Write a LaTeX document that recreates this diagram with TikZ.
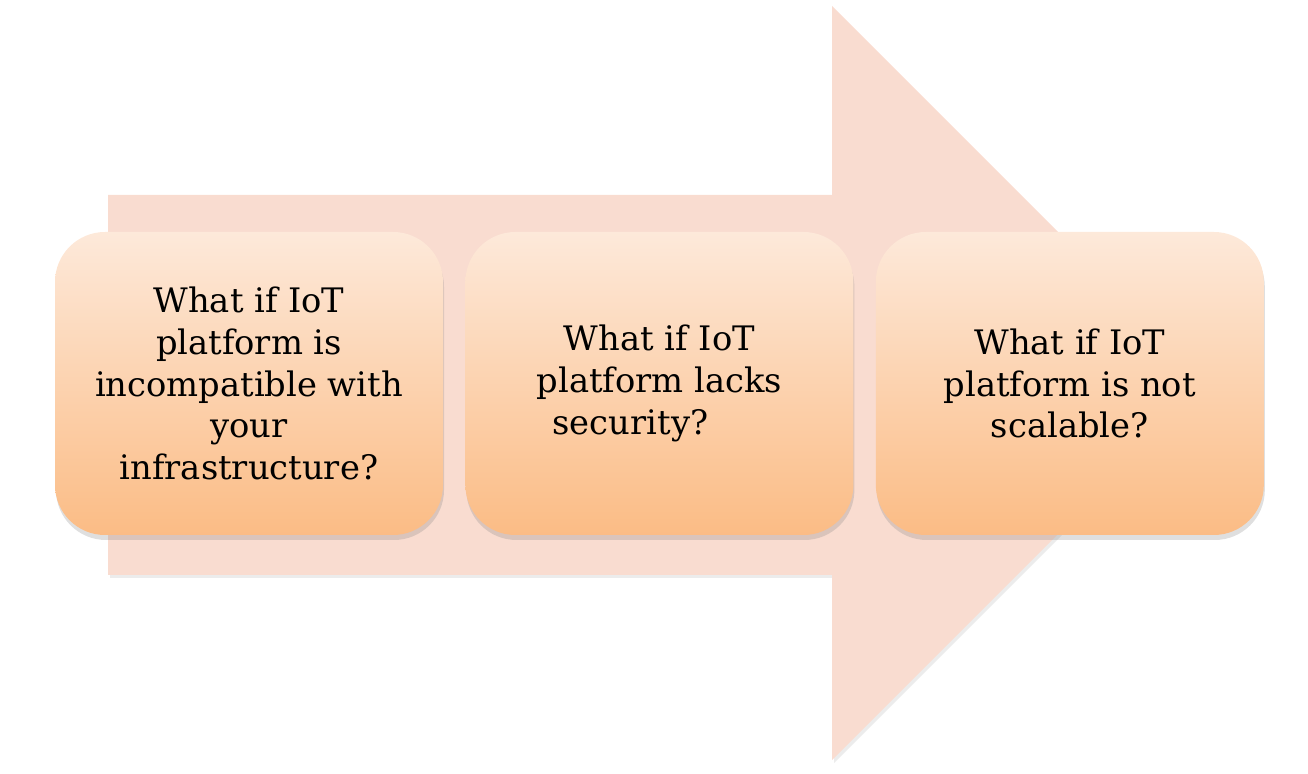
\documentclass[tikz,border=0pt]{standalone}
\usepackage{fontspec}
\setmainfont{DejaVu Serif}
\usetikzlibrary{positioning,shadows}
\definecolor{ArrowPink}{HTML}{F9DCD0}
\definecolor{BoxTop}{HTML}{FDE9DA}
\definecolor{BoxBottom}{HTML}{FBBC85}
\definecolor{BodyText}{HTML}{000000}

\begin{document}
\begin{tikzpicture}[x=1cm,y=1cm,
  card/.style={rounded corners=0.5cm,minimum width=3.88cm,minimum height=3.03cm,
    top color=BoxTop,bottom color=BoxBottom,draw=none,align=center,text=BodyText,
    font=\fontsize{9.6}{11.9}\selectfont,
    drop shadow={shadow xshift=0.01cm,shadow yshift=-0.05cm,opacity=0.25}}]
  \useasboundingbox (0,0) rectangle (13.08,7.74);

  % the big arrow behind the cards
  \path[fill=ArrowPink,drop shadow={shadow xshift=0.02cm,shadow yshift=-0.03cm,opacity=0.15}]
    (1.08,1.99) -- (8.32,1.99) -- (8.32,0.14) -- (12.09,3.91)
    -- (8.32,7.68) -- (8.32,5.79) -- (1.08,5.79) -- cycle;

  \node[card] (q1) at (2.49,3.905)
    {What if IoT\\platform is\\incompatible with\\your\\infrastructure?};
  \node[card,right=0.21cm of q1] (q2)
    {What if IoT\\platform lacks\\security?\hspace*{0.58cm}};
  \node[card,right=0.21cm of q2] (q3)
    {What if IoT\\platform is not\\scalable?};
\end{tikzpicture}
\end{document}
